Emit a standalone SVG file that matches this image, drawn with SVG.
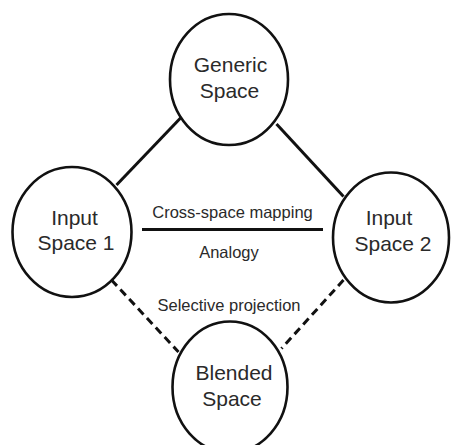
<svg xmlns="http://www.w3.org/2000/svg" width="451" height="445" viewBox="0 0 451 445">
  <style>
    .node { fill: #ffffff; stroke: #111111; stroke-width: 2.6; }
    .label { font-family: "Liberation Sans", Arial, sans-serif; font-size: 21px; fill: #2a2a2a; text-anchor: middle; }
    .edge-label { font-family: "Liberation Sans", Arial, sans-serif; font-size: 16.5px; fill: #2a2a2a; text-anchor: middle; }
    .link { stroke: #111111; stroke-width: 3; fill: none; }
    .dashed { stroke-dasharray: 8 5; }
  </style>
  <rect width="451" height="445" fill="#ffffff"/>

  <!-- connectors -->
  <g id="connectors">
    <line class="link" x1="116.5" y1="185" x2="181.5" y2="117"/>
    <line class="link" x1="276.5" y1="124" x2="343.5" y2="196.5"/>
    <line class="link dashed" x1="111.5" y1="280" x2="178.5" y2="352"/>
    <line class="link dashed" x1="343.5" y1="280" x2="281.5" y2="348.5"/>
    <line class="link" x1="142" y1="229.5" x2="323" y2="229.5" stroke-width="2.6"/>
    <text class="edge-label" x="232.5" y="218">Cross-space mapping</text>
    <text class="edge-label" x="229" y="258">Analogy</text>
    <text class="edge-label" x="229" y="311">Selective projection</text>
  </g>

  <!-- nodes -->
  <g id="generic-space">
    <ellipse class="node" cx="229" cy="79.5" rx="59" ry="65.5"/>
    <text class="label" x="230.5" y="72">Generic</text>
    <text class="label" x="229.5" y="98">Space</text>
  </g>
  <g id="input-space-1">
    <ellipse class="node" cx="72" cy="232" rx="59.5" ry="65"/>
    <text class="label" x="74.5" y="225">Input</text>
    <text class="label" x="76" y="250">Space 1</text>
  </g>
  <g id="input-space-2">
    <ellipse class="node" cx="391" cy="237.5" rx="58" ry="65"/>
    <text class="label" x="389" y="225">Input</text>
    <text class="label" x="393" y="251">Space 2</text>
  </g>
  <g id="blended-space">
    <ellipse class="node" cx="230" cy="387" rx="57.5" ry="65.5"/>
    <text class="label" x="234" y="380">Blended</text>
    <text class="label" x="232" y="406">Space</text>
  </g>
</svg>
